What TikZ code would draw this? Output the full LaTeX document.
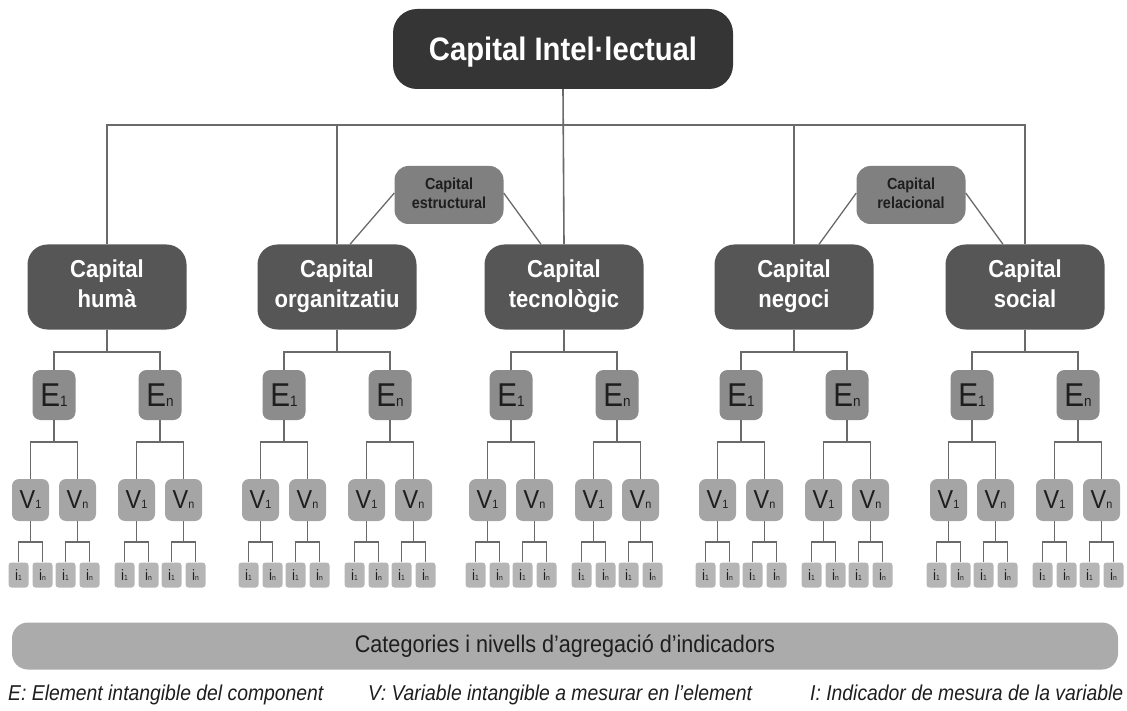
\documentclass[tikz,border=0pt]{standalone}
\usepackage{fontspec}
\setmainfont{Liberation Sans}[FakeStretch=0.9]
\usetikzlibrary{calc}

\definecolor{topfill}{HTML}{353535}
\definecolor{capfill}{HTML}{565656}
\definecolor{midfill}{HTML}{808080}
\definecolor{efill}{HTML}{8C8C8C}
\definecolor{vfill}{HTML}{A5A5A5}
\definecolor{ifill}{HTML}{B5B5B5}
\definecolor{barfill}{HTML}{ABABAB}
\definecolor{linegray}{HTML}{6A6A6A}
\definecolor{darktext}{HTML}{1E1E1E}

% level labels: big letter followed by a small index sitting on the baseline
\newcommand\Elabel[1]{{\fontsize{33}{33}\selectfont E}{\fontsize{15}{15}\selectfont #1}}
\newcommand\Vlabel[1]{{\fontsize{26}{26}\selectfont V}{\fontsize{12}{12}\selectfont #1}}
\newcommand\Ilabel[1]{{\fontsize{15}{15}\selectfont i}{\fontsize{7.5}{7.5}\selectfont #1}}
% two struts keep the baselines equal whatever the letters
\newcommand\twolines[2]{#1\strut\\#2\strut}

\begin{document}
\begin{tikzpicture}[x=1pt,y=-1pt,
  conn/.style={draw=linegray,line width=1.6pt},
  thinconn/.style={draw=linegray,line width=1.3pt},
  topbox/.style={fill=topfill,rounded corners=24pt,inner sep=0pt,
    minimum width=340pt,minimum height=80pt,text=white,
    text height=23pt,text depth=0pt,
    font=\fontsize{32.5}{32.5}\selectfont\bfseries},
  capbox/.style={fill=capfill,rounded corners=20pt,inner sep=0pt,
    minimum width=159pt,minimum height=85pt,text=white,align=center,
    font=\fontsize{24.5}{30}\selectfont\bfseries},
  midbox/.style={fill=midfill,rounded corners=14pt,inner sep=0pt,
    minimum width=109pt,minimum height=58pt,text=darktext,align=center,
    font=\fontsize{16}{19}\selectfont\bfseries},
  ebox/.style={fill=efill,rounded corners=8pt,inner sep=0pt,
    minimum width=43pt,minimum height=50pt,text=darktext},
  vbox/.style={fill=vfill,rounded corners=7pt,inner sep=0pt,
    minimum width=37pt,minimum height=42pt,text=darktext},
  ibox/.style={fill=ifill,rounded corners=3pt,inner sep=0pt,
    minimum width=20pt,minimum height=25pt,text=darktext},
  barbox/.style={fill=barfill,rounded corners=16pt,inner sep=0pt,
    minimum width=1106pt,minimum height=47pt,text=darktext,
    font=\fontsize{24}{24}\selectfont},
  legend/.style={inner sep=0pt,anchor=base west,text=darktext,
    font=\fontsize{21.5}{21.5}\selectfont\itshape}
]
\useasboundingbox (0,0) rectangle (1127,711);

% root
\node[topbox] (top) at (563,49) {Capital Intel·lectual};

% components
\node[capbox] (cap-1) at (107,287) {\twolines{Capital}{humà}};
\node[capbox] (cap-2) at (337,287) {\twolines{Capital}{organitzatiu}};
\node[capbox] (cap-3) at (564,287) {\twolines{Capital}{tecnològic}};
\node[capbox] (cap-4) at (794,287) {\twolines{Capital}{negoci}};
\node[capbox] (cap-5) at (1025,287) {\twolines{Capital}{social}};

% groupings
\node[midbox] (est) at (449,195) {\twolines{Capital}{estructural}};
\node[midbox] (rel) at (911,195) {\twolines{Capital}{relacional}};

% bus from the root to the components
\coordinate (bus) at (564,125);
\draw[conn] (top.south) -- (cap-3.north);
\draw[conn] (cap-1.north) |- (bus) -| (cap-5.north);
\draw[conn] (cap-2.north) -- (cap-2.north |- bus);
\draw[conn] (cap-4.north) -- (cap-4.north |- bus);

% grouping links
\draw[thinconn] ($(est.west)+(0,-2)$) -- ($(cap-2.north)+(13,0)$);
\draw[thinconn] ($(est.east)+(0,-2)$) -- ($(cap-3.north)+(-23,0)$);
\draw[thinconn] ($(rel.west)+(0,-2)$) -- ($(cap-4.north)+(25,0)$);
\draw[thinconn] ($(rel.east)+(0,-2)$) -- ($(cap-5.north)+(-22,0)$);

% elements, variables and indicators under each component
\foreach \g/\cx in {1/107,2/337,3/564,4/794,5/1025}{
  \foreach \j/\ex/\es in {1/-53/1,2/53/n}{
    \node[ebox] (e-\g-\j) at (\cx+\ex,395) {\Elabel{\es}};
    \draw[conn] (cap-\g.south) -- ++(0,22) -| (e-\g-\j.north);
    \foreach \k/\vx/\vs in {1/-23.5/1,2/23.5/n}{
      \node[vbox] (v-\g-\j-\k) at (\cx+\ex+\vx,500) {\Vlabel{\vs}};
      \draw[conn] (e-\g-\j.south) -- ++(0,22) -| (v-\g-\j-\k.north);
      \foreach \l/\ix/\is in {1/-12/1,2/12/n}{
        \node[ibox] (i-\g-\j-\k-\l) at (\cx+\ex+\vx+\ix,575) {\Ilabel{\is}};
        \draw[conn] (v-\g-\j-\k.south) -- ++(0,21) -| (i-\g-\j-\k-\l.north);
      }
    }
  }
}

% category bar
\node[barbox] (bar) at (565,646) {Categories i nivells d’agregació d’indicadors};

% legend
\node[legend] (leg-e) at (8,700) {E: Element intangible del component};
\node[legend] (leg-v) at (368,700) {V: Variable intangible a mesurar en l’element};
\node[legend] (leg-i) at (810,700) {I: Indicador de mesura de la variable};
\end{tikzpicture}
\end{document}
